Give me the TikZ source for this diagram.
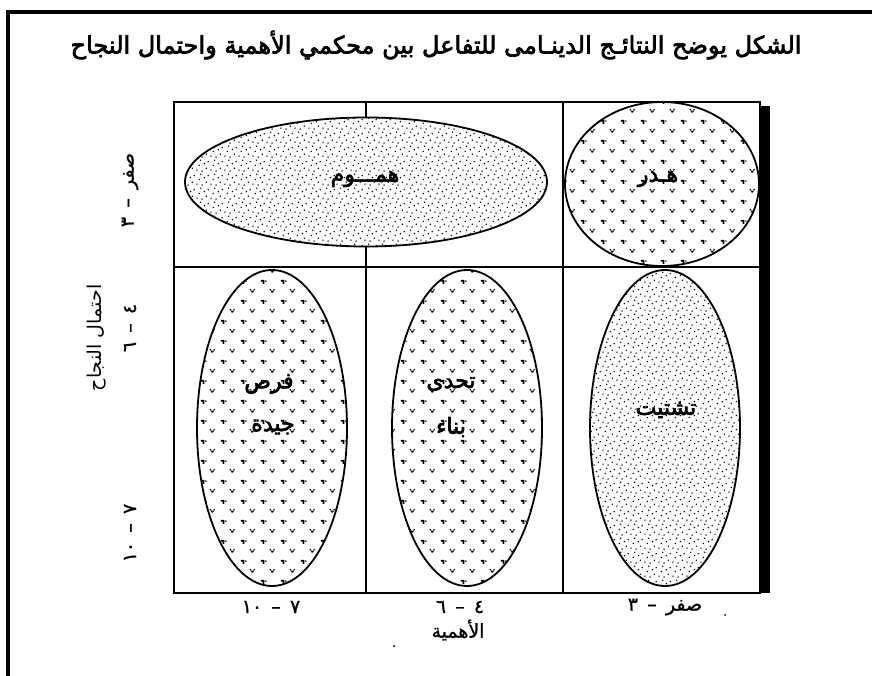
\documentclass[tikz,border=0pt]{standalone}
\usepackage{fontspec}
\usetikzlibrary{patterns,shapes.geometric}
\TeXXeTstate=1
\newfontfamily\arabicfont[Script=Arabic]{DejaVu Sans}
\newfontfamily\arabicbold[Script=Arabic,FakeBold=3]{DejaVu Sans}
\newfontfamily\arabicmid[Script=Arabic,FakeBold=1]{DejaVu Sans}
\pgfdeclarepatternformonly{finedots}{\pgfpointorigin}{\pgfqpoint{14pt}{14pt}}{\pgfqpoint{14pt}{14pt}}{%
  \pgfpathcircle{\pgfqpoint{1pt}{2pt}}{0.85pt}
  \pgfpathcircle{\pgfqpoint{6.5pt}{1pt}}{0.85pt}
  \pgfpathcircle{\pgfqpoint{11pt}{4pt}}{0.85pt}
  \pgfpathcircle{\pgfqpoint{3.5pt}{7pt}}{0.85pt}
  \pgfpathcircle{\pgfqpoint{9pt}{9pt}}{0.85pt}
  \pgfpathcircle{\pgfqpoint{13pt}{11pt}}{0.85pt}
  \pgfpathcircle{\pgfqpoint{5pt}{12.5pt}}{0.85pt}
  \pgfusepath{fill}}
\pgfdeclarepatternformonly{vmarks}{\pgfpointorigin}{\pgfqpoint{20pt}{20pt}}{\pgfqpoint{20pt}{20pt}}{%
  % hook mark
  \pgfpathrectangle{\pgfqpoint{1pt}{15pt}}{\pgfqpoint{3.6pt}{1.8pt}}
  \pgfpathrectangle{\pgfqpoint{2.8pt}{12.6pt}}{\pgfqpoint{1.8pt}{3.4pt}}
  \pgfpathcircle{\pgfqpoint{6.2pt}{15.6pt}}{0.9pt}
  % v mark
  \pgfpathcircle{\pgfqpoint{10.8pt}{6.6pt}}{0.9pt}
  \pgfpathcircle{\pgfqpoint{14.8pt}{6.6pt}}{0.9pt}
  \pgfpathrectangle{\pgfqpoint{12pt}{3.6pt}}{\pgfqpoint{1.8pt}{1.8pt}}
  \pgfpathcircle{\pgfqpoint{11.8pt}{5.2pt}}{0.7pt}
  \pgfpathcircle{\pgfqpoint{13.9pt}{5.2pt}}{0.7pt}
  \pgfusepath{fill}}
\tikzset{
  frameline/.style={line width=3.5pt},
  gridline/.style={line width=1.8pt},
  blob/.style={ellipse, draw, line width=1.8pt, inner sep=0pt, preaction={fill=white}},
  fine/.style={blob, pattern=finedots},
  marks/.style={blob, pattern=vmarks},
  lab/.style={font=\arabicbold\fontsize{22}{24}\selectfont, inner sep=0pt},
  num/.style={font=\arabicmid\fontsize{19}{21}\selectfont, inner sep=0pt},
}
\begin{document}
\begin{tikzpicture}[x=1pt,y=-1pt]
\useasboundingbox (0,0) rectangle (872,676);
% outer frame
\coordinate (fTL) at (8,12);
\coordinate (fTR) at (872,12);
\coordinate (fBL) at (8,676);
\draw[frameline] (fBL) -- (fTL) -- (fTR);
% title
\node[font=\arabicbold\fontsize{24}{28}\selectfont, inner sep=0pt] (title) at (436,45)
  {\beginR الشكل يوضح النتائـج الدينـامى للتفاعل بين محكمي الأهمية واحتمال النجاح\endR};
% shadow
\fill (760,106) rectangle (770,593);
% grid
\coordinate (gTL) at (174,102);
\coordinate (gBR) at (760,593);
\coordinate (c1t) at (366,102); \coordinate (c1b) at (366,593);
\coordinate (c2t) at (563,102); \coordinate (c2b) at (563,593);
\coordinate (rl) at (174,267); \coordinate (rr) at (760,267);
\draw[gridline] (gTL) rectangle (gBR);
\draw[gridline] (c1t) -- (c1b);
\draw[gridline] (c2t) -- (c2b);
\draw[gridline] (rl) -- (rr);
% ellipses
\node[fine, minimum width=362pt, minimum height=129pt] (humum) at (366,182) {};
\node[marks, minimum width=194pt, minimum height=164pt] (hadar) at (662,184) {};
\node[marks, minimum width=150pt, minimum height=316pt] (furas) at (272,428) {};
\node[marks, minimum width=150pt, minimum height=316pt] (tahadi) at (467,428) {};
\node[fine, minimum width=150pt, minimum height=316pt] (tashtit) at (665,428) {};
% cell labels
\node[lab] (lhumum) at (365,179) {\beginR همـــوم\endR};
\node[lab] (lhadar) at (658,179) {\beginR هـدر\endR};
\node[lab] (lfuras1) at (269,384) {\beginR فرص\endR};
\node[lab] (lfuras2) at (273,427) {\beginR جيدة\endR};
\node[lab] (ltahadi1) at (451,384) {\beginR تحدى\endR};
\node[lab] (ltahadi2) at (451,427) {\beginR بناء\endR};
\node[lab] (ltashtit) at (666,410) {\beginR تشتيت\endR};
% bottom axis
\node[num] (x1) at (271,607) {\beginR ٧ \,–\, \beginL١٠\endL\endR};
\node[num] (x2) at (460,607) {\beginR ٤ \,–\, ٦\endR};
\node[num] (x3) at (665,607) {\beginR صفر \,–\, ٣\endR};
\node[num] (xt) at (458,630) {\beginR الأهمية\endR};
% left axis
\node[num, rotate=90] (y1) at (130,190) {\beginR صفر \,–\, ٣\endR};
\node[num, rotate=90] (y2) at (130,328) {\beginR ٤ \,–\, ٦\endR};
\node[num, rotate=90] (y3) at (130,533) {\beginR ٧ \,–\, \beginL١٠\endL\endR};
\node[font=\arabicfont\fontsize{19}{21}\selectfont, inner sep=0pt, rotate=90] (yt) at (97,338) {\beginR احتمال النجاح\endR};
% specks
\fill (394,646) circle (1.2pt);
\fill (725,615) circle (1pt);
\end{tikzpicture}
\end{document}
